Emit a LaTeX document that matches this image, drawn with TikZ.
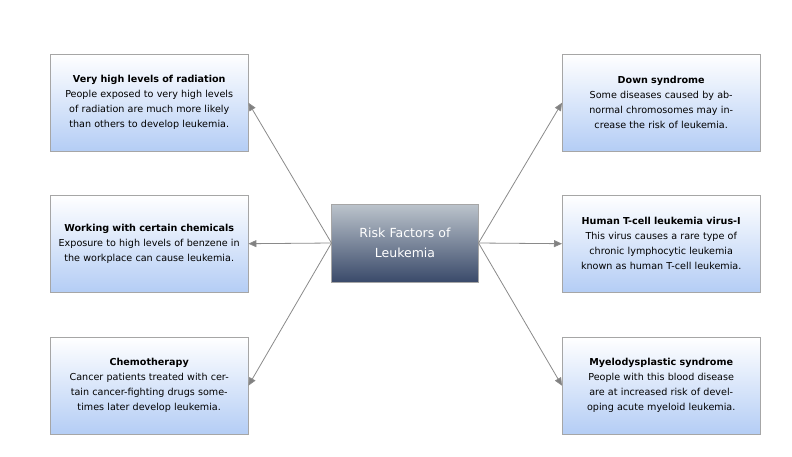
\documentclass[tikz,border=0pt]{standalone}
\usepackage{fontspec}
\setmainfont{DejaVu Sans}
\usetikzlibrary{arrows.meta}
\definecolor{boxtop}{HTML}{FFFFFF}
\definecolor{boxbot}{HTML}{B4CDF5}
\definecolor{ctrtop}{HTML}{BCC4CC}
\definecolor{ctrbot}{HTML}{3A4A6A}
\definecolor{linec}{HTML}{8A8A8A}
\begin{document}
\begin{tikzpicture}[x=1pt,y=-1pt,
  risk/.style={draw=gray!70, top color=boxtop, bottom color=boxbot,
    minimum width=198pt, minimum height=97pt, text width=188pt, align=center,
    font=\fontsize{9.6}{15}\selectfont, inner sep=2pt, anchor=north west},
  hub/.style={draw=gray!70, top color=ctrtop, bottom color=ctrbot, text=white,
    minimum width=144pt, minimum height=78pt, text width=140pt, align=center,
    font=\fontsize{12.5}{20}\selectfont},
  link/.style={draw=linec, line width=0.8pt, -{Triangle[length=8pt,width=7pt,fill=gray]}}]
\useasboundingbox (0,0) rectangle (792,456);
\node[hub] (c) at (405,243) {Risk Factors of\\Leukemia};
\node[risk] (l1) at (50,54) {\textbf{Very high levels of radiation}\\People exposed to very high levels of radiation are much more likely than others to develop leukemia.};
\node[risk] (l2) at (50,195) {\textbf{Working with certain chemicals}\\Exposure to high levels of benzene in the workplace can cause leukemia.};
\node[risk] (l3) at (50,337) {\textbf{Chemotherapy}\\Cancer patients treated with certain cancer-fighting drugs sometimes later develop leukemia.};
\node[risk] (r1) at (562,54) {\textbf{Down syndrome}\\Some diseases caused by abnormal chromosomes may increase the risk of leukemia.};
\node[risk] (r2) at (562,195) {\textbf{Human T-cell leukemia virus-I}\\This virus causes a rare type of chronic lymphocytic leukemia known as human T-cell leukemia.};
\node[risk] (r3) at (562,337) {\textbf{Myelodysplastic syndrome}\\People with this blood disease are at increased risk of developing acute myeloid leukemia.};
\draw[link] (c.west) -- (l1.east);
\draw[link] (c.west) -- (l2.east);
\draw[link] (c.west) -- (l3.east);
\draw[link] (c.east) -- (r1.west);
\draw[link] (c.east) -- (r2.west);
\draw[link] (c.east) -- (r3.west);
\end{tikzpicture}
\end{document}
